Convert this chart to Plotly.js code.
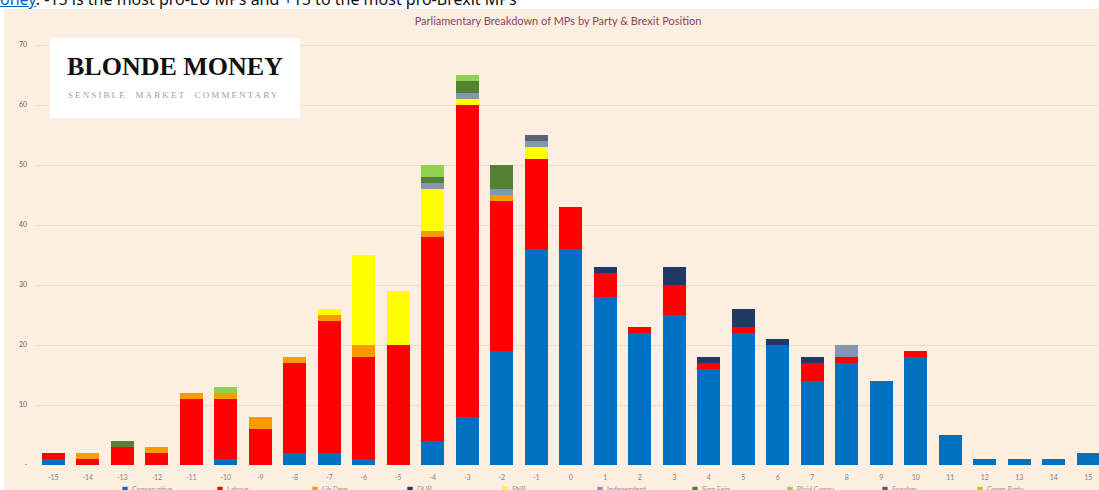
<!DOCTYPE html>
<html>
<head>
<meta charset="utf-8">
<script src="https://cdn.plot.ly/plotly-3.0.1.min.js"></script>
<style>
  html, body { margin: 0; padding: 0; background: #ffffff; width: 1099px; height: 490px; overflow: hidden; position: relative; }
  #topline { position: absolute; left: 0; top: -12px; font-family: "Noto Sans", sans-serif; font-size: 16px; color: #111; white-space: nowrap; }
  #topline a { color: #0563c1; text-decoration: underline; }
  #chart { position: absolute; left: 4px; top: 9px; width: 1095px; height: 505px; }
  #chart .legendpoints path { transform-box: fill-box; transform-origin: center; transform: translate(33px, 0) scale(0.45); }
</style>
</head>
<body>
<div id="topline"><a>oney</a>. -15 is the most pro-EU MPs and +15 to the most pro-Brexit MPs</div>
<div id="chart"></div>
<script>
// Brexit position scale (-15 most pro-EU ... +15 most pro-Brexit)
const positions = [-15,-14,-13,-12,-11,-10,-9,-8,-7,-6,-5,-4,-3,-2,-1,0,1,2,3,4,5,6,7,8,9,10,11,12,13,14,15];
const positionLabels = ["-15","-14","-13","-12","-11","-10","-9","-8","-7","-6","-5","-4","-3","-2","-1","0","1","2","3","4","5","6","7","8","9","10","11","12","13","14","15"];

const parties = ["Conservative","Labour","Lib Dem","DUP","SNP","Independent","Sinn Fein","Plaid Cymru","Speaker","Green Party"];

const conservative = [1,0,0,0,0,1,0,2,2,1,0,4,8,19,36,36,28,22,25,16,22,20,14,17,14,18,5,1,1,1,2];
const labour       = [1,1,3,2,11,10,6,15,22,17,20,34,52,25,15,7,4,1,5,1,1,0,3,1,0,1,0,0,0,0,0];
const libDem       = [0,1,0,1,1,1,2,1,1,2,0,1,0,1,0,0,0,0,0,0,0,0,0,0,0,0,0,0,0,0,0];
const dup          = [0,0,0,0,0,0,0,0,0,0,0,0,0,0,0,0,1,0,3,1,3,1,1,0,0,0,0,0,0,0,0];
const snp          = [0,0,0,0,0,0,0,0,1,15,9,7,1,0,2,0,0,0,0,0,0,0,0,0,0,0,0,0,0,0,0];
const independent  = [0,0,0,0,0,0,0,0,0,0,0,1,1,1,1,0,0,0,0,0,0,0,0,2,0,0,0,0,0,0,0];
const sinnFein     = [0,0,1,0,0,0,0,0,0,0,0,1,2,4,0,0,0,0,0,0,0,0,0,0,0,0,0,0,0,0,0];
const plaidCymru   = [0,0,0,0,0,1,0,0,0,0,0,2,1,0,0,0,0,0,0,0,0,0,0,0,0,0,0,0,0,0,0];
const speaker      = [0,0,0,0,0,0,0,0,0,0,0,0,0,0,1,0,0,0,0,0,0,0,0,0,0,0,0,0,0,0,0];
const greenParty   = [0,0,0,0,0,0,0,0,0,0,0,0,0,0,0,0,0,0,0,0,0,0,0,0,0,0,0,0,0,0,0];

const yTickVals = [0,10,20,30,40,50,60,70];
const yTickText = ["-","10","20","30","40","50","60","70"];

const series = [conservative, labour, libDem, dup, snp, independent, sinnFein, plaidCymru, speaker, greenParty];
const colors = ["#0070c0","#ff0000","#ff9900","#203864","#ffff00","#8497b0","#548235","#92d050","#5a6270","#c8c400"];

const traces = series.map((vals, i) => ({
  type: "bar",
  name: parties[i],
  x: positions,
  y: vals,
  marker: { color: colors[i], line: { width: 0 } },
  hoverinfo: "skip"
}));

// div geometry helpers
const W = 1095, H = 505;
const M = { l: 32, r: 0, t: 33, b: 49 };
const PW = W - M.l - M.r, PH = H - M.t - M.b;
const px2x = (px) => (px - M.l) / PW;
const px2y = (py) => (H - M.b - py) / PH;
const unit = 34.5;

const layout = {
  width: W, height: H, autosize: false,
  margin: M,
  paper_bgcolor: "#fcefe1",
  plot_bgcolor: "#fcefe1",
  barmode: "stack",
  bargap: 0.33,
  showlegend: true,
  title: {
    text: "Parliamentary Breakdown of MPs by Party & Brexit Position",
    font: { family: "Lato, sans-serif", size: 11, color: "#8a4560" },
    xref: "container", x: (558 - 4) / W, xanchor: "center",
    yref: "container", y: 1 - 12 / H, yanchor: "middle",
    automargin: false
  },
  xaxis: {
    type: "linear",
    range: [-15.5, -15.5 + PW / unit],
    tickmode: "array",
    tickvals: positions,
    ticktext: positionLabels,
    showgrid: false, zeroline: false, showline: false, ticks: "",
    ticklabelstandoff: 7,
    tickfont: { family: "Lato, sans-serif", size: 7, color: "#8a8078" },
    automargin: false,
    fixedrange: true
  },
  yaxis: {
    range: [0, 70.5],
    tickmode: "array",
    tickvals: yTickVals,
    ticktext: yTickText,
    showgrid: true, gridcolor: "#f2dfcc", gridwidth: 1,
    zeroline: false, showline: false, ticks: "",
    ticklabelstandoff: 8,
    tickfont: { family: "Lato, sans-serif", size: 7, color: "#7a5a55" },
    automargin: false,
    fixedrange: true
  },
  legend: {
    orientation: "h",
    xref: "container", yref: "container",
    x: 88 / W, xanchor: "left",
    y: 1 - 466 / H, yanchor: "top",
    entrywidth: 50, entrywidthmode: "pixels",
    font: { family: "Lato, sans-serif", size: 7, color: "#9a8f88" },
    bgcolor: "rgba(0,0,0,0)",
    traceorder: "normal"
  },
  shapes: [{
    type: "rect", xref: "paper", yref: "paper", layer: "above",
    x0: px2x(46), x1: px2x(296), y0: px2y(29), y1: px2y(109),
    fillcolor: "#ffffff", line: { width: 0 }
  }],
  annotations: [
    {
      xref: "paper", yref: "paper", x: px2x(170.5), y: px2y(58),
      xanchor: "center", yanchor: "middle", showarrow: false,
      text: "<b>BLONDE MONEY</b>",
      font: { family: "Liberation Serif, serif", size: 26, color: "#111111" }
    },
    {
      xref: "paper", yref: "paper", x: px2x(169.5), y: px2y(86),
      xanchor: "center", yanchor: "middle", showarrow: false,
      text: "<span style=\"letter-spacing:2.1px\">SENSIBLE  MARKET  COMMENTARY</span>",
      font: { family: "Liberation Serif, serif", size: 9, color: "#a0a0a0" }
    }
  ],
  hovermode: false
};

Plotly.newPlot("chart", traces, layout, { displayModeBar: false, staticPlot: true });
</script>
</body>
</html>
